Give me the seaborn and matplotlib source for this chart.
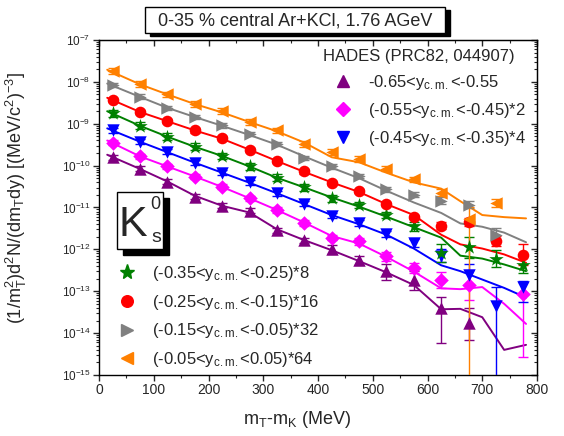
import numpy as np
import pandas as pd
import seaborn as sns
import matplotlib
matplotlib.use("Agg")
import matplotlib.pyplot as plt
from matplotlib.ticker import LogLocator, NullFormatter, MultipleLocator
from matplotlib.lines import Line2D
from matplotlib.patches import Rectangle

nan = np.nan
# ---------------- data (log10 of yield) ----------------
x_bins = [25, 75, 125, 175, 225, 275, 325, 375, 425, 475, 525, 575, 625, 675, 725, 775]

y_purple = [-9.80, -10.08, -10.38, -10.74, -10.96, -11.08, -11.54, -11.78, -12.00, -12.26, -12.51, -12.73, -13.39, -13.77, nan, nan]
y_magenta = [-9.45, -9.78, -10.02, -10.26, -10.50, -10.78, -11.06, -11.37, -11.72, -11.81, -12.17, -12.44, -12.73, -12.85, nan, -13.07]
y_blue = [-9.16, -9.43, -9.67, -9.93, -10.17, -10.40, -10.66, -10.91, -11.20, -11.37, -11.63, -11.85, -12.15, -12.61, -13.36, -12.91]
y_green = [-8.75, -9.05, -9.31, -9.55, -9.77, -10.02, -10.29, -10.52, -10.78, -10.94, -11.18, -11.45, -12.08, -11.95, -12.22, -12.37]
y_red = [-8.43, -8.72, -8.94, -9.16, -9.35, -9.62, -9.89, -10.14, -10.41, -10.61, -10.92, -11.22, -11.43, -11.34, -11.80, -12.13]
y_gray = [-8.08, -8.35, -8.62, -8.83, -9.04, -9.25, -9.48, -9.81, -10.02, -10.24, -10.57, -10.69, -10.84, -10.93, -11.65, nan]
y_orange = [-7.75, -8.06, -8.30, -8.53, -8.70, -8.96, -9.16, -9.48, -9.68, -9.85, -10.07, -10.33, -10.65, -11.28, -10.90, nan]

# errors (log10 units, up / down)
eu_purple = [.06]*8 + [.10, .10, .15, .22, .26, .37, 0, 0]
ed_purple = [.06]*8 + [.12, .12, .22, .25, .85, .40, 0, 0]
eu_magenta = [.06]*9 + [.08, .10, .12, .20, .35, 0, .30]
ed_magenta = [.06]*9 + [.08, .10, .12, .20, .35, 0, 1.5]
eu_blue = [.06]*10 + [.08, .10, .15, .25, .47, .15]
ed_blue = [.06]*10 + [.08, .10, .15, .25, 3.0, .35]
eu_green = [.08]*10 + [.08, .10, .22, .25, .20, .20]
ed_green = [.08]*10 + [.08, .10, .22, .25, .20, .20]
eu_red = [.05]*12 + [.08, .10, .12, .25]
ed_red = [.05]*12 + [.08, .10, .12, .25]
eu_gray = [.05]*12 + [.08, .08, .15, 0]
ed_gray = [.05]*12 + [.08, .08, .15, 0]
eu_orange = [.07]*12 + [.08, .28, .10, 0]
ed_orange = [.07]*12 + [.08, 5.0, .10, 0]

# model curves (log10)
model_x = [15, 75, 125, 175, 225, 275, 325, 375, 425, 475, 525, 575, 625, 660, 700, 740, 780]
m_orange = [-7.71, -8.06, -8.30, -8.53, -8.73, -8.96, -9.18, -9.45, -9.80, -9.92, -10.17, -10.40, -10.55, -10.85, -11.18, -11.23, -11.26]
m_gray = [-8.04, -8.36, -8.62, -8.84, -9.05, -9.27, -9.50, -9.78, -10.05, -10.30, -10.60, -10.88, -11.13, -11.38, -11.46, -11.60, -11.83]
m_red = [-8.38, -8.72, -8.94, -9.16, -9.36, -9.62, -9.89, -10.15, -10.40, -10.63, -10.92, -11.18, -11.65, -11.88, -11.98, -12.12, -12.32]
m_green = [-8.70, -9.05, -9.31, -9.55, -9.77, -10.02, -10.29, -10.52, -10.76, -10.98, -11.22, -11.47, -11.72, -12.15, -12.22, -12.36, -12.52]
m_blue = [-9.11, -9.43, -9.68, -9.93, -10.17, -10.41, -10.66, -10.92, -11.18, -11.40, -11.65, -11.98, -12.38, -12.52, -12.72, -12.92, -13.15]
m_magenta = [-9.40, -9.78, -10.02, -10.26, -10.51, -10.78, -11.06, -11.36, -11.68, -11.86, -12.18, -12.53, -12.93, -12.95, -12.90, -13.30, -13.78]
m_purple = [-9.74, -10.08, -10.38, -10.72, -10.96, -11.12, -11.52, -11.78, -12.02, -12.28, -12.55, -12.85, -13.43, -13.42, -13.62, -14.40, -14.28]

labels = ["-0.65<y$_{\\rm c.m.}$<-0.55",
          "(-0.55<y$_{\\rm c.m.}$<-0.45)*2",
          "(-0.45<y$_{\\rm c.m.}$<-0.35)*4",
          "(-0.35<y$_{\\rm c.m.}$<-0.25)*8",
          "(-0.25<y$_{\\rm c.m.}$<-0.15)*16",
          "(-0.15<y$_{\\rm c.m.}$<-0.05)*32",
          "(-0.05<y$_{\\rm c.m.}$<0.05)*64"]
legend_title = "HADES (PRC82, 044907)"
title_text = "0-35 % central Ar+KCl, 1.76 AGeV"

# ---------------- style ----------------
sns.set_style("ticks")
plt.rcParams['font.family'] = ['Liberation Sans', 'DejaVu Sans']
plt.rcParams['mathtext.fontset'] = 'custom'
plt.rcParams['mathtext.rm'] = 'Liberation Sans'
plt.rcParams['mathtext.it'] = 'Liberation Sans:italic'
plt.rcParams['mathtext.bf'] = 'Liberation Sans:bold'
plt.rcParams['mathtext.default'] = 'regular'

W, H = 564, 436
fx = lambda p: p / W
fy = lambda p: 1 - p / H

fig = plt.figure(figsize=(W/100, H/100), dpi=100)
ax = fig.add_axes([fx(99), fy(375), 438/W, 335/H])

series = [
    (y_purple, eu_purple, ed_purple, m_purple, '#800080', '^', 80),
    (y_magenta, eu_magenta, ed_magenta, m_magenta, '#FF00FF', 'D', 55),
    (y_blue, eu_blue, ed_blue, m_blue, '#0000FF', 'v', 80),
    (y_green, eu_green, ed_green, m_green, '#008000', '*', 120),
    (y_red, eu_red, ed_red, m_red, '#FF0000', 'o', 70),
    (y_gray, eu_gray, ed_gray, m_gray, '#808080', '>', 80),
    (y_orange, eu_orange, ed_orange, m_orange, '#FF8000', '<', 80),
]

handles = []
for i, ((ly, eu, ed, my, col, mk, sz), lab) in enumerate(zip(series, labels)):
    mdf = pd.DataFrame({'x': model_x, 'y': 10**np.array(my)})
    sns.lineplot(data=mdf, x='x', y='y', color=col, lw=1.4, ax=ax,
                 estimator=None, sort=False, zorder=2)
    d = pd.DataFrame({'x': x_bins, 'ly': ly, 'eu': eu, 'ed': ed}).dropna()
    yv = 10**d['ly'].values
    lo = yv - 10**(d['ly'].values - d['ed'].values)
    hi = 10**(d['ly'].values + d['eu'].values) - yv
    ax.errorbar(d['x'], yv, yerr=[lo, hi], fmt='none', ecolor=col,
                elinewidth=1.0, capsize=3.5, capthick=1.0, zorder=2.5 + 0.01*i)
    sns.scatterplot(x=d['x'].values, y=yv, marker=mk, s=sz, color=col,
                    edgecolor=col, linewidth=0, ax=ax, zorder=3)
    handles.append(Line2D([], [], ls='none', marker=mk, color=col, mec=col,
                          markersize=np.sqrt(sz)))

ax.set_yscale('log')
ax.set_xlim(0, 800)
ax.set_ylim(1e-15, 1e-7)
ax.set_xlabel('')
ax.set_ylabel('')

ax.xaxis.set_major_locator(MultipleLocator(100))
ax.xaxis.set_minor_locator(MultipleLocator(50))
ax.yaxis.set_major_locator(LogLocator(base=10, numticks=30))
ax.yaxis.set_minor_locator(LogLocator(base=10, subs=np.arange(2, 10), numticks=100))
ax.yaxis.set_minor_formatter(NullFormatter())
ax.tick_params(which='major', direction='out', length=4, width=1, labelsize=10, pad=2)
ax.tick_params(which='minor', direction='out', length=2.2, width=0.8)
ax.tick_params(axis='y', which='major', labelsize=8.5)
for s in ax.spines.values():
    s.set_visible(True)
    s.set_linewidth(1.0)
    s.set_color('black')

secx = ax.secondary_xaxis('top')
secx.xaxis.set_major_locator(MultipleLocator(100))
secx.xaxis.set_minor_locator(MultipleLocator(50))
secx.tick_params(which='both', direction='in', labeltop=False)
secx.tick_params(which='major', length=4, width=1)
secx.tick_params(which='minor', length=2.2, width=0.8)
secy = ax.secondary_yaxis('right')
secy.yaxis.set_major_locator(LogLocator(base=10, numticks=30))
secy.yaxis.set_minor_locator(LogLocator(base=10, subs=np.arange(2, 10), numticks=100))
secy.yaxis.set_major_formatter(NullFormatter())
secy.yaxis.set_minor_formatter(NullFormatter())
secy.tick_params(which='both', direction='in', labelright=False)
secy.tick_params(which='major', length=4, width=1)
secy.tick_params(which='minor', length=2.2, width=0.8)

# legends
fs = 12
leg1 = ax.legend(handles[:3], labels[:3], title=legend_title, title_fontsize=fs,
                 fontsize=fs, frameon=False, loc='upper left',
                 bbox_to_anchor=(fx(323), fy(48.5)), bbox_transform=fig.transFigure,
                 borderpad=0, borderaxespad=0, handlelength=2.4, handletextpad=0.3,
                 labelspacing=0.55, alignment='left')
ax.add_artist(leg1)
leg2 = ax.legend(handles[3:], labels[3:], fontsize=fs, frameon=False, loc='upper left',
                 bbox_to_anchor=(fx(118.5), fy(264)), bbox_transform=fig.transFigure,
                 borderpad=0, borderaxespad=0, handlelength=1.0, handletextpad=1.0,
                 labelspacing=0.58)

# axis labels
fig.text(fx(297), fy(419), "m$_{\\rm T}$-m$_{\\rm K}$ (MeV)", fontsize=13,
         ha='center', va='center')
fig.text(fx(16), fy(198),
         "(1/m$_{\\rm T}^{2}$)d$^{2}$N/(dm$_{\\rm T}$dy) [(MeV/c$^{2}$)$^{-3}$]",
         fontsize=13, rotation=90, ha='center', va='center')

# title box with shadow
fig.patches.append(Rectangle((fx(150), fy(36)), 300/W, 26/H, transform=fig.transFigure,
                             facecolor='black', edgecolor='black', zorder=5))
fig.patches.append(Rectangle((fx(145), fy(33)), 300/W, 26/H, transform=fig.transFigure,
                             facecolor='white', edgecolor='black', lw=1, zorder=6))
fig.text(fx(295), fy(20.5), title_text, fontsize=13, ha='center', va='center', zorder=7)

# K0s box with shadow
fig.patches.append(Rectangle((fx(123), fy(255)), 46/W, 57/H, transform=fig.transFigure,
                             facecolor='black', edgecolor='black', zorder=5))
fig.patches.append(Rectangle((fx(117), fy(249)), 46/W, 57/H, transform=fig.transFigure,
                             facecolor='white', edgecolor='black', lw=1, zorder=6))
fig.text(fx(119), fy(225), "K", fontsize=31, ha='left', va='center', zorder=7)
fig.text(fx(150), fy(204), "0", fontsize=13, ha='left', va='center', zorder=7)
fig.text(fx(151), fy(238), "s", fontsize=14, ha='left', va='center', zorder=7)

fig.savefig('out.png', dpi=100)
